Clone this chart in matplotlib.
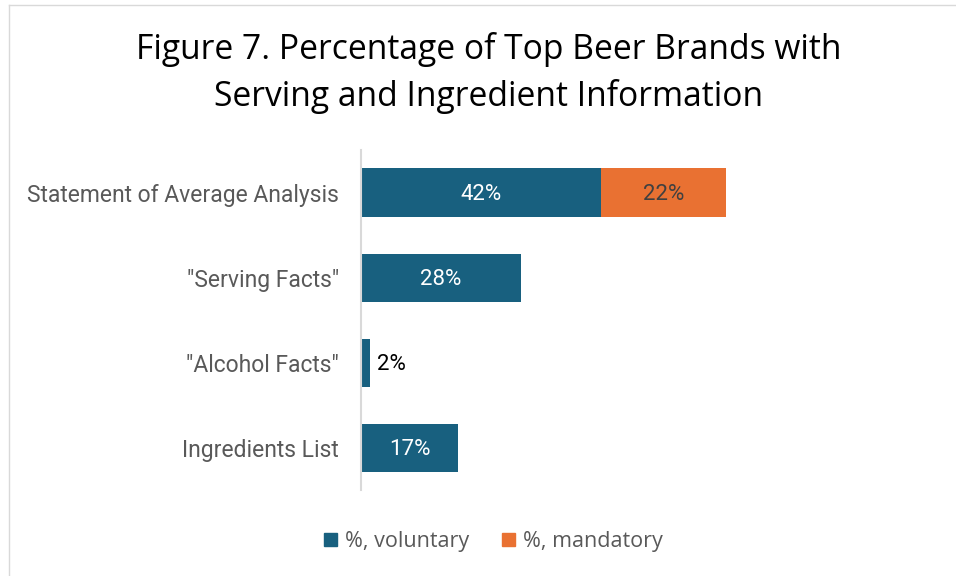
import numpy as np
import matplotlib.pyplot as plt
from matplotlib.patches import Patch
from matplotlib.lines import Line2D

categories = ['Statement of Average Analysis', '"Serving Facts"', '"Alcohol Facts"', 'Ingredients List']
voluntary = [42, 28, 1.5, 17]
mandatory = [22, 0, 0, 0]
series_names = ['%, voluntary', '%, mandatory']

blue = '#18607f'
orange = '#e97132'

fig = plt.figure(figsize=(9.56, 5.76), dpi=100)
ax = fig.add_axes([0.3776, 0.149, 0.5974, 0.5906])

y = np.arange(len(categories))
h = 0.565
ax.barh(y, voluntary, height=h, color=blue)
ax.barh(y, mandatory, left=voluntary, height=h, color=orange)

# data labels
for i, v in enumerate(voluntary):
	if v >= 10:
		ax.text(v / 2, i + 0.02, f'{v:.0f}%', ha='center', va='center', color='white',
				fontsize=16, family='Roboto')
	else:
		ax.text(v + 1.3, i + 0.02, f'{v:.0f}%', ha='left', va='center', color='black',
				fontsize=16, family='Roboto')
for i, m in enumerate(mandatory):
	if m > 0:
		ax.text(voluntary[i] + m / 2, i + 0.02, f'{m:.0f}%', ha='center', va='center',
				color='#404040', fontsize=16, family='Roboto')

ax.set_xlim(0, 100)
ax.set_ylim(len(categories) - 0.5, -0.5)
ax.set_yticks(y)
ax.set_yticklabels(categories, fontsize=16.5, family='Roboto', color='#595959')
ax.tick_params(axis='y', length=0, pad=16)
ax.set_xticks([])
for s in ['top', 'right', 'bottom']:
	ax.spines[s].set_visible(False)
ax.spines['left'].set_color('#d9d9d9')
ax.spines['left'].set_linewidth(1.5)

fig.text(0.511, 0.873, 'Figure 7. Percentage of Top Beer Brands with\nServing and Ingredient Information',
		 ha='center', va='center', fontsize=24.2, family='Open Sans', linespacing=1.45)

handles = [Patch(color=blue), Patch(color=orange)]
fig.legend(handles, series_names, loc='center', bbox_to_anchor=(0.516, 0.06), ncol=2,
		   frameon=False, prop={'family': 'Open Sans', 'size': 15.5},
		   handlelength=0.6, handleheight=0.6, handletextpad=0.4, columnspacing=1.5,
		   labelcolor='#595959')

# outer frame (top and left edges visible)
fig.add_artist(Line2D([0.009, 1], [0.991, 0.991], color='#d9d9d9', lw=1, transform=fig.transFigure))
fig.add_artist(Line2D([0.009, 0.009], [0, 0.991], color='#d9d9d9', lw=1, transform=fig.transFigure))

fig.savefig('out.png', dpi=100)
